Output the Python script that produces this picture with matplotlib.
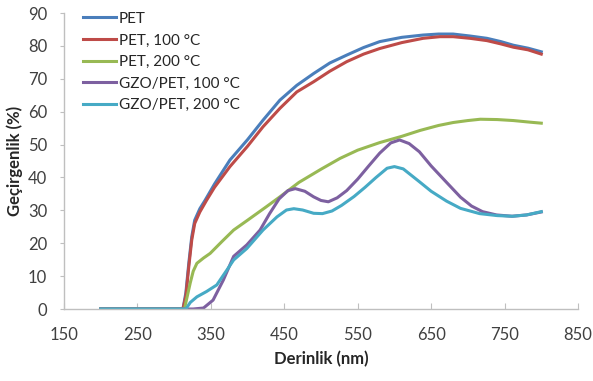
import matplotlib.pyplot as plt

plt.rcParams['font.family'] = ['Lato', 'DejaVu Sans']

# wavelength (nm) and transmittance (%)
pet_x = [200, 312, 316, 320, 324, 328, 335, 342, 355, 376, 400, 421, 444, 467, 490, 512, 535,
         558, 580, 610, 639, 660, 680, 703, 726, 745, 762, 782, 800]
pet = [0, 0, 5, 14, 22, 27, 30.5, 33, 38, 45.3, 51.5, 57.4, 63.5, 68, 71.6, 74.8, 77.2,
       79.5, 81.3, 82.6, 83.3, 83.6, 83.6, 83, 82.3, 81.3, 80.2, 79.3, 78.2]

pet100_x = [200, 312, 316, 320, 324, 328, 335, 344, 355, 376, 400, 421, 444, 467, 490, 512, 535,
            558, 580, 610, 639, 662, 680, 703, 726, 745, 762, 782, 800]
pet100 = [0, 0, 4, 13, 21, 26, 29.5, 33, 37, 43.3, 49.5, 55.4, 61, 66, 69.1, 72.3, 75.2,
          77.5, 79.2, 81, 82.3, 82.8, 82.8, 82.3, 81.6, 80.6, 79.6, 78.8, 77.5]

pet200_x = [200, 314, 318, 322, 326, 331, 340, 349, 365, 381, 400, 425, 444, 470, 500, 526, 550,
            580, 610, 635, 660, 680, 700, 717, 740, 762, 785, 800]
pet200 = [0, 0, 4, 8, 11.5, 13.9, 15.5, 16.9, 20.5, 24, 27, 31, 34.1, 38.5, 42.5, 45.8, 48.3,
          50.6, 52.5, 54.3, 55.8, 56.7, 57.3, 57.7, 57.6, 57.3, 56.8, 56.5]

gzo100_x = [200, 326, 340, 353, 367, 381, 399, 417, 430, 443, 455, 465, 478, 490, 500, 510, 522,
            535, 550, 565, 580, 595, 607, 620, 634, 650, 671, 690, 705, 720, 739, 760, 780, 800]
gzo100 = [0, 0, 0.3, 2.7, 8.8, 16, 19.5, 24, 29, 33.5, 36, 36.6, 35.8, 34.1, 33, 32.6, 33.8,
          36, 39.5, 43.5, 47.4, 50.5, 51.4, 50.3, 47.8, 43.5, 38.5, 34, 31.3, 29.6, 28.6, 28.2,
          28.6, 29.5]

gzo200_x = [200, 316, 322, 331, 344, 358, 372, 381, 399, 421, 440, 453, 463, 475, 490, 502, 515,
            528, 545, 560, 575, 590, 600, 612, 634, 650, 671, 690, 716, 740, 761, 780, 800]
gzo200 = [0, 0, 2, 3.7, 5.3, 7.3, 11.9, 14.9, 18.4, 24, 28, 30.1, 30.5, 30.1, 29.1, 29, 29.8,
          31.5, 34.2, 37, 40, 42.8, 43.3, 42.6, 38.7, 35.8, 32.8, 30.6, 29, 28.4, 28.2, 28.6, 29.6]

x_ticks = [150, 250, 350, 450, 550, 650, 750, 850]
y_ticks = [0, 10, 20, 30, 40, 50, 60, 70, 80, 90]

fig = plt.figure(figsize=(5.93, 3.81), dpi=100)
ax = fig.add_axes([64 / 593, 1 - 309 / 381, 514 / 593, 296 / 381])

lw = 2.2
ax.plot(pet_x, pet, color='#4A7EBB', lw=lw, label='PET')
ax.plot(pet100_x, pet100, color='#BE4B48', lw=lw, label='PET, 100 °C')
ax.plot(pet200_x, pet200, color='#98B954', lw=lw, label='PET, 200 °C')
ax.plot(gzo100_x, gzo100, color='#7D60A0', lw=lw, label='GZO/PET, 100 °C')
ax.plot(gzo200_x, gzo200, color='#46AAC5', lw=lw, label='GZO/PET, 200 °C')

ax.set_xlim(150, 850)
ax.set_ylim(0, 90)
ax.set_xticks(x_ticks)
ax.set_yticks(y_ticks)

for s in ['top', 'right']:
    ax.spines[s].set_visible(False)
for s in ['left', 'bottom']:
    ax.spines[s].set_color('#BFBFBF')
    ax.spines[s].set_linewidth(1.0)

ax.tick_params(axis='x', direction='in', length=4, color='#BFBFBF', pad=13,
               labelsize=12, labelcolor='#404040')
ax.tick_params(axis='y', direction='out', length=3, color='#BFBFBF', pad=9,
               labelsize=12, labelcolor='#404040')

ax.set_xlabel('Derinlik (nm)', fontsize=12, fontweight='bold', color='#262626', labelpad=6)
ax.set_ylabel('Geçirgenlik (%)', fontsize=12, fontweight='bold', color='#262626', labelpad=4)

ax.legend(loc='upper left', bbox_to_anchor=(0.022, 1.03), frameon=False, fontsize=11,
          handlelength=2.15, handletextpad=0.2, labelspacing=0.5, borderpad=0,
          labelcolor='#262626')

fig.savefig('out.png', dpi=100)
